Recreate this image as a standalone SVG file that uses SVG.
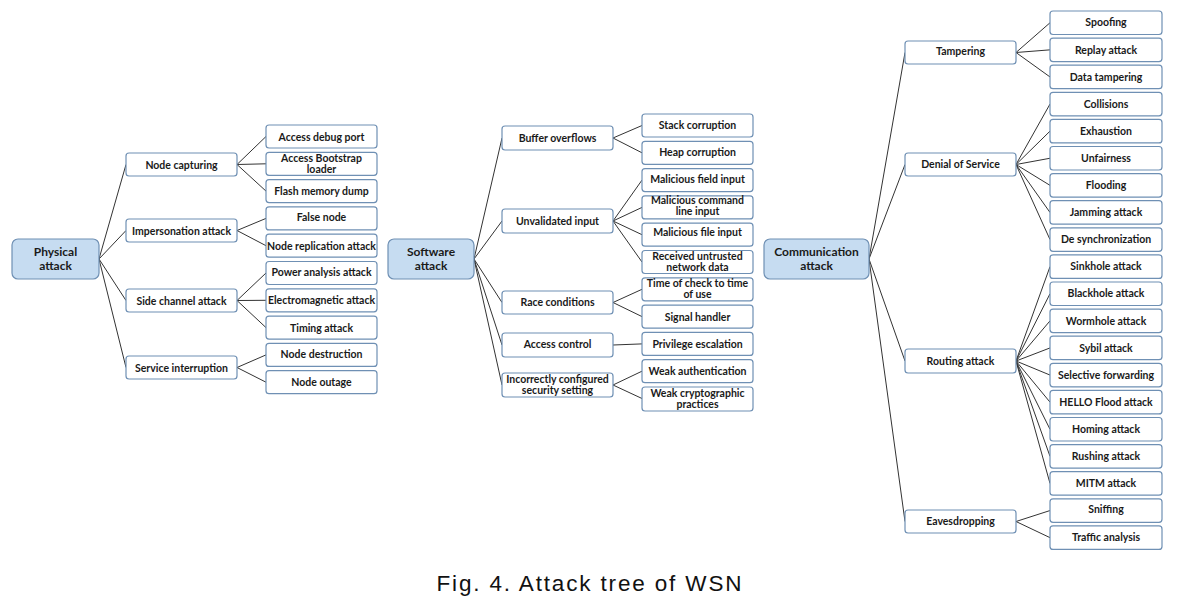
<svg xmlns="http://www.w3.org/2000/svg" width="1181" height="601" viewBox="0 0 1181 601">
<style>
.n rect{fill:#fff;stroke:#6f90b4;stroke-width:1.2}
.r rect{fill:#c6dcf1;stroke:#6f90b4;stroke-width:1.2}
text{font-family:Lato,"Liberation Sans",sans-serif;font-weight:700;font-size:10.5px;fill:#1a1a1a;text-anchor:middle}
.r text{font-size:12px}
#links path{stroke:#333;stroke-width:1;fill:none}
.cap{font-family:"Liberation Sans",sans-serif;font-weight:400;font-size:22.5px;fill:#111}
</style>
<rect width="1181" height="601" fill="#fff"/>
<g id="links">
<path d="M99 259L126 164.5M99 259L126 230.5M99 259L126 300.5M99 259L126 367.5"/>
<path d="M237 164.5L266 136.5M237 164.5L266 163.8M237 164.5L266 191.1M237 230.5L266 218.4M237 230.5L266 245.7M237 300.5L266 273M237 300.5L266 300.3M237 300.5L266 327.6M237 367.5L266 354.9M237 367.5L266 382.2"/>
<path d="M474 259L502 138M474 259L502 221M474 259L502 302.5M474 259L502 345M474 259L502 385"/>
<path d="M613 138L642 125.5M613 138L642 152.8M613 221L642 180.1M613 221L642 207.4M613 221L642 234.7M613 221L642 262M613 302.5L642 289.3M613 302.5L642 316.6M613 345L642 343.9M613 385L642 371.2M613 385L642 398.5"/>
<path d="M869 259L905 52.5M869 259L905 164.5M869 259L905 361M869 259L905 521.5"/>
<path d="M1016 52.5L1050 22.75M1016 52.5L1050 49.85M1016 52.5L1050 76.95M1016 164.5L1050 104.05M1016 164.5L1050 131.15M1016 164.5L1050 158.25M1016 164.5L1050 185.35M1016 164.5L1050 212.45M1016 164.5L1050 239.55M1016 361L1050 266.65M1016 361L1050 293.75M1016 361L1050 320.85M1016 361L1050 347.95M1016 361L1050 375.05M1016 361L1050 402.15M1016 361L1050 429.25M1016 361L1050 456.35M1016 361L1050 483.45M1016 521.5L1050 510.55M1016 521.5L1050 537.65"/>
</g>
<g id="physical" class="r"><rect x="12" y="239" width="87" height="40" rx="6"/><text x="55.5" y="256">Physical</text><text x="55.5" y="270">attack</text></g>
<g id="node-capturing" class="n"><rect x="126" y="153" width="111" height="23" rx="3"/><text x="181.5" y="168.5">Node capturing</text></g>
<g id="impersonation" class="n"><rect x="126" y="219" width="111" height="23" rx="3"/><text x="181.5" y="234.5">Impersonation attack</text></g>
<g id="side-channel" class="n"><rect x="126" y="289" width="111" height="23" rx="3"/><text x="181.5" y="304.5">Side channel attack</text></g>
<g id="service-interruption" class="n"><rect x="126" y="356" width="111" height="23" rx="3"/><text x="181.5" y="371.5">Service interruption</text></g>
<g id="access-debug" class="n"><rect x="266" y="125" width="111" height="23" rx="3"/><text x="321.5" y="140.5">Access debug port</text></g>
<g id="access-bootstrap" class="n"><rect x="266" y="152.3" width="111" height="23" rx="3"/><text x="321.5" y="162">Access Bootstrap</text><text x="321.5" y="173">loader</text></g>
<g id="flash-dump" class="n"><rect x="266" y="179.6" width="111" height="23" rx="3"/><text x="321.5" y="195">Flash memory dump</text></g>
<g id="false-node" class="n"><rect x="266" y="206.9" width="111" height="23" rx="3"/><text x="321.5" y="221">False node</text></g>
<g id="node-replication" class="n"><rect x="266" y="234.2" width="111" height="23" rx="3"/><text x="321.5" y="249.5">Node replication attack</text></g>
<g id="power-analysis" class="n"><rect x="266" y="261.5" width="111" height="23" rx="3"/><text x="321.5" y="275.5">Power analysis attack</text></g>
<g id="electromagnetic" class="n"><rect x="266" y="288.8" width="111" height="23" rx="3"/><text x="321.5" y="304">Electromagnetic attack</text></g>
<g id="timing" class="n"><rect x="266" y="316.1" width="111" height="23" rx="3"/><text x="321.5" y="331.5">Timing attack</text></g>
<g id="node-destruction" class="n"><rect x="266" y="343.4" width="111" height="23" rx="3"/><text x="321.5" y="358">Node destruction</text></g>
<g id="node-outage" class="n"><rect x="266" y="370.7" width="111" height="23" rx="3"/><text x="321.5" y="386">Node outage</text></g>
<g id="software" class="r"><rect x="388" y="239" width="86" height="40" rx="6"/><text x="431" y="256">Software</text><text x="431" y="270">attack</text></g>
<g id="buffer-overflows" class="n"><rect x="502" y="126" width="111" height="24" rx="3"/><text x="557.5" y="141.5">Buffer overflows</text></g>
<g id="unvalidated-input" class="n"><rect x="502" y="209" width="111" height="24" rx="3"/><text x="557.5" y="224.5">Unvalidated input</text></g>
<g id="race-conditions" class="n"><rect x="502" y="291" width="111" height="23" rx="3"/><text x="557.5" y="306">Race conditions</text></g>
<g id="access-control" class="n"><rect x="502" y="333" width="111" height="24" rx="3"/><text x="557.5" y="348">Access control</text></g>
<g id="incorrect-config" class="n"><rect x="502" y="373" width="111" height="24" rx="3"/><text x="557.5" y="383">Incorrectly configured</text><text x="557.5" y="394">security setting</text></g>
<g id="stack-corruption" class="n"><rect x="642" y="114" width="111" height="23" rx="3"/><text x="697.5" y="129">Stack corruption</text></g>
<g id="heap-corruption" class="n"><rect x="642" y="141.3" width="111" height="23" rx="3"/><text x="697.5" y="156">Heap corruption</text></g>
<g id="malicious-field" class="n"><rect x="642" y="168.6" width="111" height="23" rx="3"/><text x="697.5" y="182.5">Malicious field input</text></g>
<g id="malicious-command" class="n"><rect x="642" y="195.9" width="111" height="23" rx="3"/><text x="697.5" y="204">Malicious command</text><text x="697.5" y="215">line input</text></g>
<g id="malicious-file" class="n"><rect x="642" y="223.2" width="111" height="23" rx="3"/><text x="697.5" y="236">Malicious file input</text></g>
<g id="untrusted-data" class="n"><rect x="642" y="250.5" width="111" height="23" rx="3"/><text x="697.5" y="259.5">Received untrusted</text><text x="697.5" y="270.5">network data</text></g>
<g id="time-of-check" class="n"><rect x="642" y="277.8" width="111" height="23" rx="3"/><text x="697.5" y="287">Time of check to time</text><text x="697.5" y="298">of use</text></g>
<g id="signal-handler" class="n"><rect x="642" y="305.1" width="111" height="23" rx="3"/><text x="697.5" y="320.5">Signal handler</text></g>
<g id="privilege-escalation" class="n"><rect x="642" y="332.4" width="111" height="23" rx="3"/><text x="697.5" y="348">Privilege escalation</text></g>
<g id="weak-auth" class="n"><rect x="642" y="359.7" width="111" height="23" rx="3"/><text x="697.5" y="374.5">Weak authentication</text></g>
<g id="weak-crypto" class="n"><rect x="642" y="387" width="111" height="24" rx="3"/><text x="697.5" y="396.5">Weak cryptographic</text><text x="697.5" y="407.5">practices</text></g>
<g id="communication" class="r"><rect x="764" y="239" width="105" height="40" rx="6"/><text x="816.5" y="256">Communication</text><text x="816.5" y="270">attack</text></g>
<g id="tampering" class="n"><rect x="905" y="41" width="111" height="23" rx="3"/><text x="960.5" y="55">Tampering</text></g>
<g id="dos" class="n"><rect x="905" y="153" width="111" height="23" rx="3"/><text x="960.5" y="167.5">Denial of Service</text></g>
<g id="routing-attack" class="n"><rect x="905" y="349" width="111" height="24" rx="3"/><text x="960.5" y="364.5">Routing attack</text></g>
<g id="eavesdropping" class="n"><rect x="905" y="510" width="111" height="23" rx="3"/><text x="960.5" y="525">Eavesdropping</text></g>
<g id="spoofing" class="n"><rect x="1050" y="11" width="112" height="23.5" rx="3"/><text x="1106" y="26">Spoofing</text></g>
<g id="replay" class="n"><rect x="1050" y="38.1" width="112" height="23.5" rx="3"/><text x="1106" y="54">Replay attack</text></g>
<g id="data-tampering" class="n"><rect x="1050" y="65.2" width="112" height="23.5" rx="3"/><text x="1106" y="81">Data tampering</text></g>
<g id="collisions" class="n"><rect x="1050" y="92.3" width="112" height="23.5" rx="3"/><text x="1106" y="107.5">Collisions</text></g>
<g id="exhaustion" class="n"><rect x="1050" y="119.4" width="112" height="23.5" rx="3"/><text x="1106" y="134.5">Exhaustion</text></g>
<g id="unfairness" class="n"><rect x="1050" y="146.5" width="112" height="23.5" rx="3"/><text x="1106" y="161.5">Unfairness</text></g>
<g id="flooding" class="n"><rect x="1050" y="173.6" width="112" height="23.5" rx="3"/><text x="1106" y="189">Flooding</text></g>
<g id="jamming" class="n"><rect x="1050" y="200.7" width="112" height="23.5" rx="3"/><text x="1106" y="216">Jamming attack</text></g>
<g id="desync" class="n"><rect x="1050" y="227.8" width="112" height="23.5" rx="3"/><text x="1106" y="243">De synchronization</text></g>
<g id="sinkhole" class="n"><rect x="1050" y="254.9" width="112" height="23.5" rx="3"/><text x="1106" y="270">Sinkhole attack</text></g>
<g id="blackhole" class="n"><rect x="1050" y="282" width="112" height="23.5" rx="3"/><text x="1106" y="297">Blackhole attack</text></g>
<g id="wormhole" class="n"><rect x="1050" y="309.1" width="112" height="23.5" rx="3"/><text x="1106" y="324.5">Wormhole attack</text></g>
<g id="sybil" class="n"><rect x="1050" y="336.2" width="112" height="23.5" rx="3"/><text x="1106" y="351.5">Sybil attack</text></g>
<g id="selective-forwarding" class="n"><rect x="1050" y="363.3" width="112" height="23.5" rx="3"/><text x="1106" y="379">Selective forwarding</text></g>
<g id="hello-flood" class="n"><rect x="1050" y="390.4" width="112" height="23.5" rx="3"/><text x="1106" y="405.5">HELLO Flood attack</text></g>
<g id="homing" class="n"><rect x="1050" y="417.5" width="112" height="23.5" rx="3"/><text x="1106" y="432.5">Homing attack</text></g>
<g id="rushing" class="n"><rect x="1050" y="444.6" width="112" height="23.5" rx="3"/><text x="1106" y="460">Rushing attack</text></g>
<g id="mitm" class="n"><rect x="1050" y="471.7" width="112" height="23.5" rx="3"/><text x="1106" y="487">MITM attack</text></g>
<g id="sniffing" class="n"><rect x="1050" y="498.8" width="112" height="23.5" rx="3"/><text x="1106" y="513">Sniffing</text></g>
<g id="traffic-analysis" class="n"><rect x="1050" y="525.9" width="112" height="23.5" rx="3"/><text x="1106" y="541">Traffic analysis</text></g>
<text class="cap" x="589" y="591" textLength="305" lengthAdjust="spacing">Fig. 4. Attack tree of WSN</text>
</svg>
